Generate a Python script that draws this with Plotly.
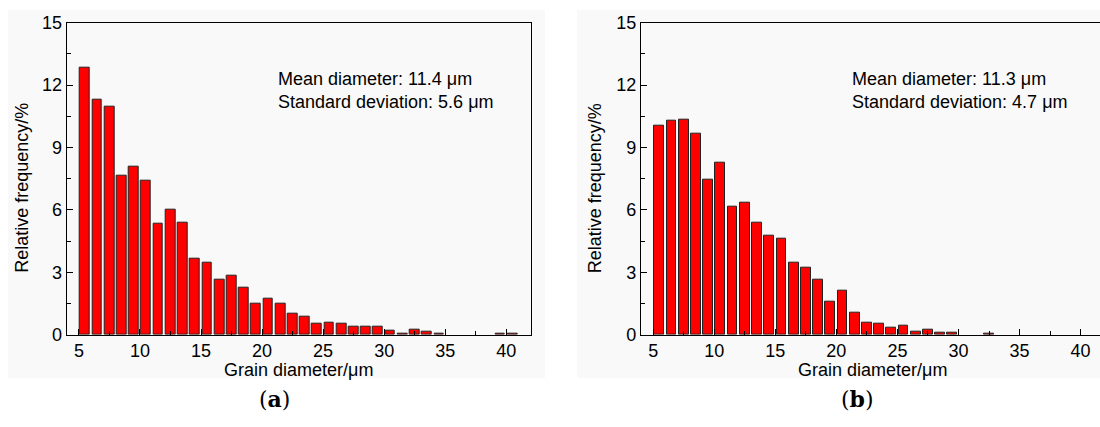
import plotly.graph_objects as go

W, H = 1100, 427  # reference pixel frame used for placing the domains

# Bin centres (grain diameter, µm)
bins_a = [5.5, 6.5, 7.5, 8.5, 9.5, 10.5, 11.5, 12.5, 13.5, 14.5, 15.5, 16.5, 17.5, 18.5,
          19.5, 20.5, 21.5, 22.5, 23.5, 24.5, 25.5, 26.5, 27.5, 28.5, 29.5, 30.5, 31.5,
          32.5, 33.5, 34.5, 39.5, 40.5]
freq_a = [12.82, 11.29, 10.98, 7.64, 8.08, 7.42, 5.32, 5.99, 5.39, 3.68, 3.48, 2.64, 2.83, 2.25,
          1.51, 1.71, 1.51, 0.99, 0.86, 0.53, 0.60, 0.53, 0.40, 0.40, 0.40, 0.20, 0.07,
          0.26, 0.14, 0.05, 0.05, 0.05]

bins_b = [5.5, 6.5, 7.5, 8.5, 9.5, 10.5, 11.5, 12.5, 13.5, 14.5, 15.5, 16.5, 17.5, 18.5,
          19.5, 20.5, 21.5, 22.5, 23.5, 24.5, 25.5, 26.5, 27.5, 28.5, 29.5, 32.5]
freq_b = [10.07, 10.29, 10.36, 9.67, 7.44, 8.25, 6.14, 6.37, 5.41, 4.78, 4.63, 3.48, 3.24, 2.63,
          1.60, 2.11, 1.07, 0.57, 0.52, 0.35, 0.46, 0.17, 0.25, 0.11, 0.11, 0.05]

x_ticks = [5, 10, 15, 20, 25, 30, 35, 40]
y_ticks = [0, 3, 6, 9, 12, 15]

stats_a = "Mean diameter: 11.4 μm<br>Standard deviation: 5.6 μm"
stats_b = "Mean diameter: 11.3 μm<br>Standard deviation: 4.7 μm"
x_title = "Grain diameter/μm"
y_title = "Relative frequency/%"

FONT = "Liberation Sans, Arial, sans-serif"

def px(x):
    return x / W

def py(y):
    return 1 - y / H

fig = go.Figure()
bar_style = dict(marker=dict(color="#ff0000", line=dict(color="#222222", width=1)),
                 width=0.8, showlegend=False, hoverinfo="x+y")
fig.add_trace(go.Bar(x=bins_a, y=freq_a, xaxis="x", yaxis="y", **bar_style))
fig.add_trace(go.Bar(x=bins_b, y=freq_b, xaxis="x2", yaxis="y2", **bar_style))

ydom = [py(340.7), py(13.3)]
xdom_a = [px(66.7), px(530.7)]
xdom_b = [px(641), 1.0]

def xaxis(dom, anchor, rng):
    return dict(domain=dom, anchor=anchor, range=rng, showgrid=False, zeroline=False,
                showline=True, linecolor="black", linewidth=1.3, mirror=True,
                ticks="inside", ticklen=6, tickwidth=1.3, tickcolor="black",
                ticklabelstandoff=0,
                tickvals=x_ticks, ticktext=[str(v) for v in x_ticks],
                minor=dict(ticks="inside", ticklen=4, tickwidth=1.3, tickcolor="black",
                           tickvals=[v + 2.5 for v in x_ticks[:-1]]),
                tickfont=dict(family=FONT, size=18, color="black"), fixedrange=True)

def yaxis(dom, anchor, mirror=True):
    return dict(domain=dom, anchor=anchor, range=[0, 15], showgrid=False, zeroline=False,
                showline=True, linecolor="black", linewidth=1.3, mirror=mirror,
                ticks="inside", ticklen=6, tickwidth=1.3, tickcolor="black",
                tickvals=y_ticks, ticktext=[str(v) for v in y_ticks],
                minor=dict(ticks="inside", ticklen=4, tickwidth=1.3, tickcolor="black",
                           tickvals=[v + 1.5 for v in y_ticks[:-1]]),
                tickfont=dict(family=FONT, size=18, color="black"), fixedrange=True)

right_b = 4 + (W - 641) / ((530.7 - 66.7) / 38)

fig.update_layout(
    autosize=True, margin=dict(l=0, r=0, t=0, b=0),
    paper_bgcolor="white", plot_bgcolor="rgba(0,0,0,0)",
    bargap=0,
    xaxis=xaxis(xdom_a, "y", [4, 42]),
    yaxis=yaxis(ydom, "x"),
    xaxis2=xaxis(xdom_b, "y2", [4, right_b]),
    yaxis2=yaxis(ydom, "x2", mirror=False),
    shapes=[
        dict(type="rect", xref="paper", yref="paper", x0=px(8), x1=px(545), y0=py(386), y1=1,
             fillcolor="#f9f9f9", line=dict(width=0), layer="below"),
        dict(type="rect", xref="paper", yref="paper", x0=px(577), x1=1, y0=py(386), y1=1,
             fillcolor="#f9f9f9", line=dict(width=0), layer="below"),
    ],
)

ann = []
for cx_title, cx_ylab, cx_lbl, txt_x, stats, lbl in [
        ((66.7 + 530.7) / 2, 22.5, 274, 276, stats_a, "a"),
        ((641 + 1105) / 2, 595, 857, 850, stats_b, "b")]:
    ann.append(dict(xref="paper", yref="paper", x=px(txt_x), y=py(84), text=stats,
                    showarrow=False, xanchor="left", yanchor="middle", align="left",
                    font=dict(family=FONT, size=18, color="black")))
    ann.append(dict(xref="paper", yref="paper", x=px(cx_title), y=py(378), text=x_title,
                    showarrow=False, xanchor="center", yanchor="middle",
                    font=dict(family=FONT, size=18, color="black")))
    ann.append(dict(xref="paper", yref="paper", x=px(cx_ylab), y=py(187), text=y_title,
                    showarrow=False, xanchor="center", yanchor="middle", textangle=-90,
                    font=dict(family=FONT, size=18, color="black")))
    ann.append(dict(xref="paper", yref="paper", x=px(cx_lbl), y=py(408), text="(<b>" + lbl + "</b>)",
                    showarrow=False, xanchor="center", yanchor="middle",
                    font=dict(family="DejaVu Serif, Liberation Serif, serif", size=22, color="black")))
fig.update_layout(annotations=ann)

fig.write_html(
    "out.html",
    default_width="100vw",
    default_height="100vh",
    config={"displayModeBar": False, "responsive": True},
    post_script="document.body.style.margin='0';document.body.style.overflow='hidden';"
                "document.documentElement.style.overflow='hidden';",
)
